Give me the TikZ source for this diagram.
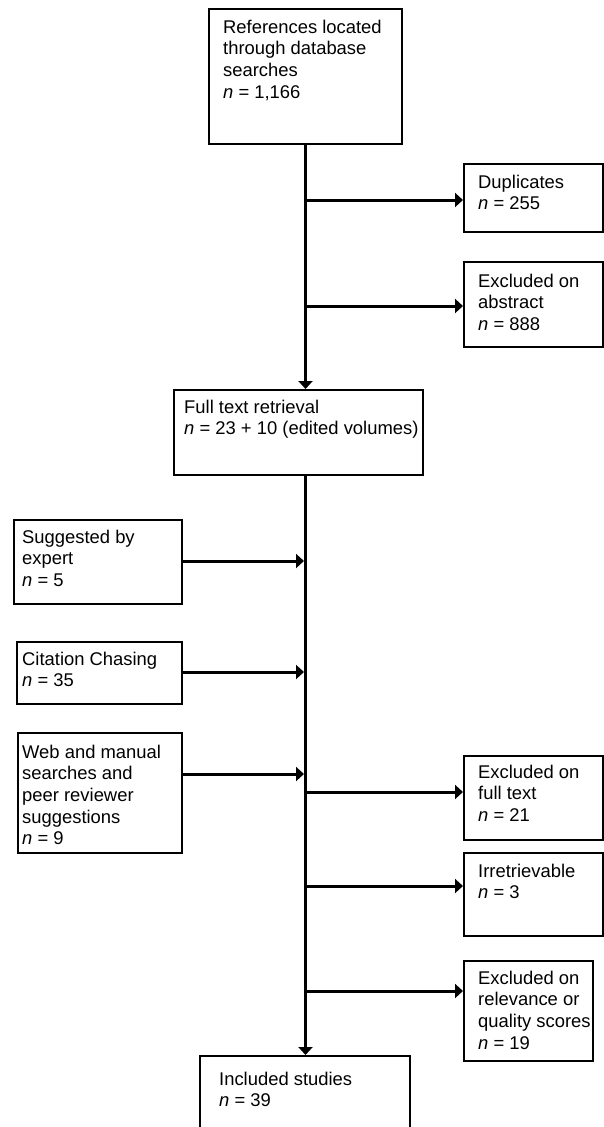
\documentclass[tikz,border=0pt]{standalone}
\usepackage{fontspec}
\setmainfont{Liberation Sans}
\usetikzlibrary{arrows.meta}
\newcommand{\boxtext}[1]{\begin{tabular}[t]{@{}l@{}}#1\end{tabular}}
\begin{document}
\begin{tikzpicture}[x=1pt,y=-1pt,
  box/.style={draw=black, line width=2pt, inner sep=0pt, anchor=north west, fill=white},
  txt/.style={inner sep=0pt, anchor=base west, font=\fontsize{18.4}{21.7}\selectfont},
  arr/.style={line width=3pt, -{Triangle[length=8pt,width=14pt]}},
  ln/.style={line width=3pt}]
\clip (0,0) rectangle (604,1127);
\fill[white] (0,0) rectangle (604,1127);
% boxes
\node[box, minimum width=193pt, minimum height=135pt] (top) at (208,8) {};
\node[box, minimum width=139pt, minimum height=68pt] (dup) at (463,163) {};
\node[box, minimum width=139pt, minimum height=85pt] (abs) at (463,261) {};
\node[box, minimum width=249pt, minimum height=85pt] (full) at (173,389) {};
\node[box, minimum width=168pt, minimum height=84pt] (sug) at (13,519) {};
\node[box, minimum width=165pt, minimum height=62pt] (cit) at (16,641) {};
\node[box, minimum width=164pt, minimum height=120pt] (web) at (17,732) {};
\node[box, minimum width=139pt, minimum height=84pt] (eft) at (463,755) {};
\node[box, minimum width=139pt, minimum height=83pt] (irr) at (463,852) {};
\node[box, minimum width=129pt, minimum height=100pt] (rel) at (463,960) {};
\node[box, minimum width=210pt, minimum height=110pt] (inc) at (199,1055) {};
% texts
\node[txt] (ttop) at ([shift={(15,25)}]top.north west) {\boxtext{References located\\through database\\searches\\\textit{n} = 1,166}};
\node[txt] (tdup) at ([shift={(15,25)}]dup.north west) {\boxtext{Duplicates\\\textit{n} = 255}};
\node[txt] (tabs) at ([shift={(15,26)}]abs.north west) {\boxtext{Excluded on\\abstract\\\textit{n} = 888}};
\node[txt] (tfull) at ([shift={(11,24)}]full.north west) {\boxtext{Full text retrieval\\\textit{n} = 23 + 10 (edited volumes)}};
\node[txt] (tsug) at ([shift={(9,24)}]sug.north west) {\boxtext{Suggested by\\expert\\\textit{n} = 5}};
\node[txt] (tcit) at ([shift={(6,24)}]cit.north west) {\boxtext{Citation Chasing\\\textit{n} = 35}};
\node[txt] (tweb) at ([shift={(5,26)}]web.north west) {\boxtext{Web and manual\\searches and\\peer reviewer\\suggestions\\\textit{n} = 9}};
\node[txt] (teft) at ([shift={(15,23)}]eft.north west) {\boxtext{Excluded on\\full text\\\textit{n} = 21}};
\node[txt] (tirr) at ([shift={(15,25)}]irr.north west) {\boxtext{Irretrievable\\\textit{n} = 3}};
\node[txt] (trel) at ([shift={(15,24)}]rel.north west) {\boxtext{Excluded on\\relevance or\\quality scores\\\textit{n} = 19}};
\node[txt] (tinc) at ([shift={(20,30)}]inc.north west) {\boxtext{Included studies\\\textit{n} = 39}};
% trunk coordinates
\coordinate (tx) at (305.5,0);
\coordinate (j1) at (305.5,200);
\coordinate (j2) at (305.5,306);
\coordinate (k1) at (304,561);
\coordinate (k2) at (304,672);
\coordinate (k3) at (304,774);
\coordinate (j3) at (305.5,792);
\coordinate (j4) at (305.5,886);
\coordinate (j5) at (305.5,991);
% trunk
\draw[arr] (top.south -| tx) -- (full.north -| tx);
\draw[arr] (full.south -| tx) -- (inc.north -| tx);
% outgoing
\draw[arr] (j1) -- (j1 -| dup.west);
\draw[arr] (j2) -- (j2 -| abs.west);
\draw[arr] (j3) -- (j3 -| eft.west);
\draw[arr] (j4) -- (j4 -| irr.west);
\draw[arr] (j5) -- (j5 -| rel.west);
% incoming
\draw[arr] (sug.east |- k1) -- (k1);
\draw[arr] (cit.east |- k2) -- (k2);
\draw[arr] (web.east |- k3) -- (k3);
\end{tikzpicture}
\end{document}
